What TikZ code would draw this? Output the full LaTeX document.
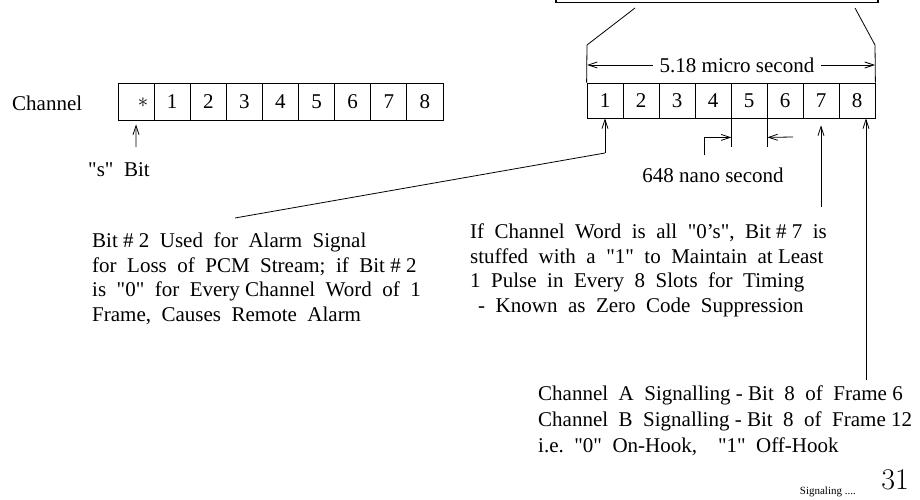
\documentclass[tikz,border=0pt]{standalone}
\usepackage{fontspec}
\setmainfont{Liberation Serif}
\newfontfamily\lmfont{Latin Modern Roman}
\usetikzlibrary{arrows.meta}
\newcommand\dq{\textquotedbl}
\tikzset{
  txt/.style={font=\fontsize{21}{24.5}\selectfont, inner sep=0pt},
  blk/.style={txt, align=left, anchor=north west},
  cellL/.style={draw, line width=0.8pt, minimum width=36.1pt, minimum height=37pt, inner sep=0pt, font=\fontsize{21}{24}\selectfont},
  cellR/.style={draw, line width=0.8pt, minimum width=36pt, minimum height=35pt, inner sep=0pt, font=\fontsize{21}{24}\selectfont},
  arr/.style={-{Straight Barb[length=9pt,width=6pt]}, line width=0.8pt},
  ln/.style={line width=0.8pt}
}
\begin{document}
\begin{tikzpicture}[x=1pt,y=-1pt]
\useasboundingbox (0,0) rectangle (920,500);
% top box (partly cut off)
\draw[line width=1.3pt] (556,-10) rectangle (878,2.5);
% left channel word
\node[txt, anchor=west] (chan) at (12,103) {Channel};
\foreach \i in {0,...,8}{
  \node[cellL] (L\i) at ({136.05+36.1*\i},101.5) {};
}
\node[txt] (star) at (143,103) {$\ast$};
\foreach \i in {1,...,8}{
  \node[txt] (n\i) at (L\i) {\i};
}
\coordinate (sa) at (136,147);
\draw[arr] (sa) -- ([yshift=-4pt]L0.south);
\node[txt, anchor=west] (sbit) at (88,170) {\dq s\dq\ \ Bit};
% right channel word
\foreach \i in {1,...,8}{
  \node[cellR] (R\i) at ({569+36*\i},100.5) {\i};
}
\coordinate (fl) at (587,45);
\coordinate (fr) at (875,45);
\coordinate (tl) at (635,8);
\coordinate (tr) at (855,8);
\draw[ln] (tl) -- (fl) -- (R1.north west);
\draw[ln] (tr) -- (fr) -- (R8.north east);
\node[txt, inner xsep=7pt] (dim) at (737,65) {5.18 micro second};
\draw[arr] (dim.west) -- (dim.west -| fl);
\draw[arr] (dim.east) -- (dim.east -| fr);
% bit 1 pointer
\coordinate (b1) at (605,153);
\coordinate (b1e) at (235,218);
\draw[arr] (b1) -- (R1.south);
\draw[ln] (b1) -- (b1e);
% 648 ns
\draw[ln] (R4.south east) -- ++(0,29);
\draw[ln] (R5.south east) -- ++(0,29);
\coordinate (mL) at (704,155);
\coordinate (mR) at (793,137);
\draw[arr] (mL) |- ([yshift=-19pt]R4.south east);
\draw[arr] (mR) -- ([yshift=-19pt]R5.south east);
\node[txt] (ns) at (713,175) {648 nano second};
% bit 7 and bit 8 pointers
\coordinate (a7) at (821,207);
\draw[arr] (a7) -- ([yshift=-7pt]R7.south);
\coordinate (a8) at (866,380);
\draw[arr] (a8) -- (a8 |- R8.south);
% text blocks
\node[blk] (t1) at (92,233) {Bit \# 2\ \ Used\ \ for\ \ Alarm\ \ Signal\\
for\ \ Loss\ \ of\ \ PCM\ \ Stream;\ \ if\ \ Bit \# 2\\
is\ \ \dq0\dq\ \ for\ \ Every Channel\ \ Word\ \ of\ \ 1\\
Frame,\ \ Causes\ \ Remote\ \ Alarm};
\node[blk] (t2) at (470,224) {If\ \ Channel\ \ Word\ \ is\ \ all\ \ \dq0’s\dq,\ \ Bit \# 7\ \ is\\
stuffed\ \ with\ \ a\ \ \dq1\dq\ \ to\ \ Maintain\ \ at Least\\
1\ \ Pulse\ \ in\ \ Every\ \ 8\ \ Slots\ \ for\ \ Timing\\
\hspace*{8pt}-\ \ Known\ \ as\ \ Zero\ \ Code\ \ Suppression};
\node[blk, font=\fontsize{21}{26}\selectfont] (t3) at (538,386) {Channel\ \ A\ \ Signalling - Bit\ \ 8\ \ of\ \ Frame 6\\
Channel\ \ B\ \ Signalling - Bit\ \ 8\ \ of\ \ Frame 12\\
i.e.\ \ \dq0\dq\ \ On-Hook,\ \ \ \ \dq1\dq\ \ Off-Hook};
% footer
\node[inner sep=0pt, anchor=east, font=\fontsize{11}{12}\selectfont] (foot) at (856,492) {Signaling ....};
\node[inner sep=0pt, anchor=east, font=\lmfont\fontsize{30}{32}\selectfont] (pg) at (909,480) {31};
\end{tikzpicture}
\end{document}
